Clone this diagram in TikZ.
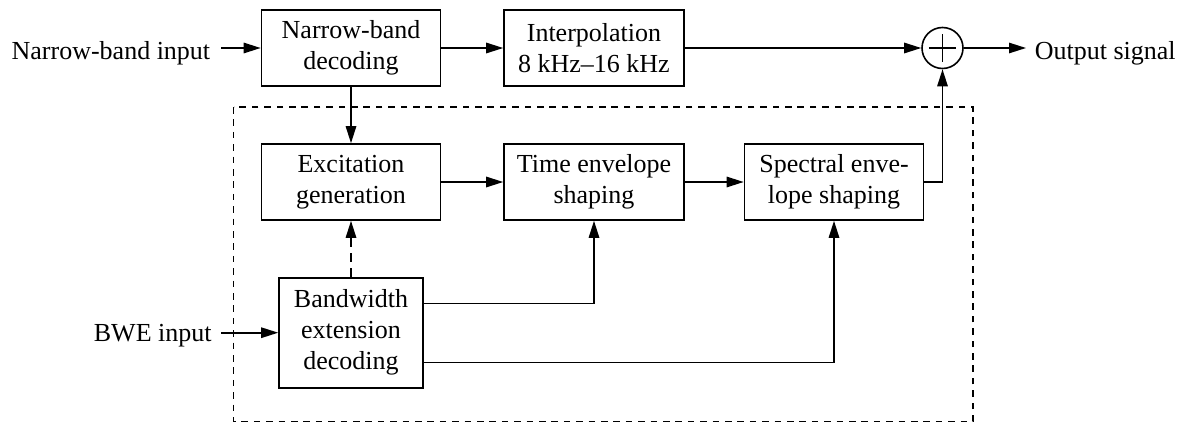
\documentclass[tikz,border=0pt]{standalone}
\usepackage{fontspec}
\setmainfont{Liberation Serif}
\usetikzlibrary{positioning}
\usetikzlibrary{calc}
\usetikzlibrary{arrows.meta}

\begin{document}
\begin{tikzpicture}[x=0.5pt, y=-0.5pt, line width=0.8pt,
    every node/.style={font=\fontsize{13}{15.5}\selectfont},
    block/.style={draw, align=center, minimum width=89.5pt, minimum height=38pt, inner sep=2pt},
    sig/.style={-{Triangle[length=8.5pt, width=5.2pt]}},
    sumnode/.style={draw, circle, minimum size=20.5pt, inner sep=0pt,
        path picture={
            \draw ([xshift=-6.8pt]path picture bounding box.center) -- ([xshift=6.8pt]path picture bounding box.center);
            \draw ([yshift=-6.8pt]path picture bounding box.center) -- ([yshift=6.8pt]path picture bounding box.center);
        }}]
    \useasboundingbox (0,0) rectangle (1184,423);

    % bandwidth extension part
    \draw[dash pattern=on 3.3pt off 2.9pt] (233.5,107) rectangle (973,421.5);

    \node[block] (nb) at (351,48) {Narrow-band\\decoding};
    \node[block, minimum width=90pt] (interp) at (594,48) {Interpolation\\8 kHz--16 kHz};
    \node[sumnode] (sum) at (942.5,48) {};
    \node[block] (exc) at (351,182) {Excitation\\generation};
    \node[block, minimum width=90pt] (time) at (594,182) {Time envelope\\shaping};
    \node[block] (spec) at (834,182) {Spectral enve-\\lope shaping};
    \node[block, minimum width=72pt, minimum height=55pt] (bw) at (351,332.7) {Bandwidth\\extension\\decoding};

    \node[anchor=base east, inner xsep=5pt] (nbin) at (221,59.3) {Narrow-band input};
    \node[anchor=base east, inner xsep=4.3pt] (bwin) at (221,341.5) {BWE input};
    \node[anchor=base west, inner xsep=4pt] (out) at (1026,59.3) {Output signal};

    \draw[sig] (nbin.east |- nb.west) -- (nb.west);
    \draw[sig] (nb.east) -- (interp.west);
    \draw[sig] (interp.east) -- (sum.west);
    \draw[sig] (sum.east) -- (out.west |- sum.east);
    \draw[sig] (nb.south) -- (exc.north);
    \draw[sig] (exc.east) -- (time.west);
    \draw[sig] (time.east) -- (spec.west);
    \draw[sig] (spec.east) -| (sum.south);
    \draw[sig] (bwin.east |- bw.west) -- (bw.west);
    \draw[sig, dash pattern=on 4.7pt off 2.8pt] (bw.north) -- (exc.south);
    \draw[sig] ($(bw.east)+(0,-29.4)$) -| (time.south);
    \draw[sig] ($(bw.east)+(0,29.6)$) -| (spec.south);
\end{tikzpicture}
\end{document}
